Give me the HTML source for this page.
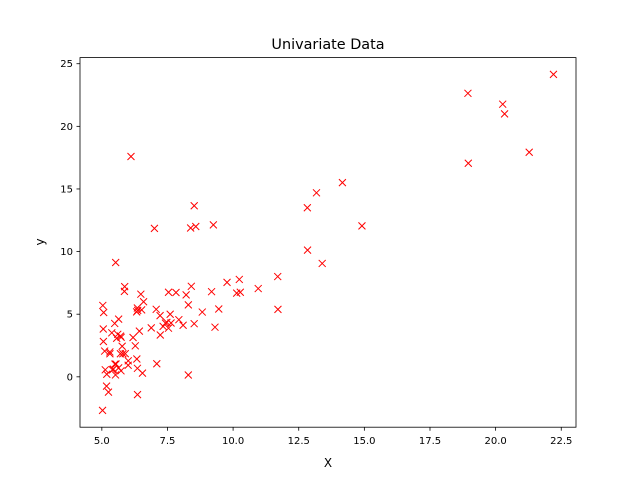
<!DOCTYPE html>
<html><head><meta charset="utf-8"><style>
html,body{margin:0;padding:0;background:#fff}
svg{display:block;font-family:"DejaVu Sans","Liberation Sans",sans-serif}
</style></head><body>
<svg id="chart" width="640" height="480" viewBox="0 0 640 480" xmlns="http://www.w3.org/2000/svg">
<rect width="640" height="480" fill="#fff"/>
<text x="328" y="49" font-size="14.4" text-anchor="middle">Univariate Data</text>
<text x="328" y="467" font-size="12" text-anchor="middle">X</text>
<text transform="translate(44,242) rotate(-90)" font-size="12" text-anchor="middle">y</text>
<g id="marks"></g>
<g id="ticks"></g>
<rect x="80" y="57.6" width="496" height="369.6" fill="none" stroke="#000" stroke-width="0.8"/>
</svg>
<script>
const xValues=[6.1101,5.5277,8.5186,7.0032,5.8598,8.3829,7.4764,8.5781,6.4862,5.0546,5.7107,14.164,5.734,8.4084,5.6407,5.3794,6.3654,5.1301,6.4296,7.0708,6.1891,20.27,5.4901,6.3261,5.5649,18.945,12.828,10.957,13.176,22.203,5.2524,6.5894,9.2482,5.8918,8.2111,7.9334,8.0959,5.6063,12.836,6.3534,5.4069,6.8825,11.708,5.7737,7.8247,7.0931,5.0702,5.8014,11.7,5.5416,7.5402,5.3077,7.4239,7.6031,6.3328,6.3589,6.2742,5.6397,9.3102,9.4536,8.8254,5.1793,21.279,14.908,18.959,7.2182,8.2951,10.236,5.4994,20.341,10.136,7.3345,6.0062,7.2259,5.0269,6.5479,7.5386,5.0365,10.274,5.1077,5.7292,5.1884,6.3557,9.7687,6.5159,8.5172,9.1802,6.002,5.5204,5.0594,5.7077,7.6366,5.8707,5.3054,8.2934,13.394,5.4369];
const yValues=[17.592,9.1302,13.662,11.854,6.8233,11.886,4.3483,12,6.5987,3.8166,3.2522,15.505,3.1551,7.2258,0.71618,3.5129,5.3048,0.56077,3.6518,5.3893,3.1386,21.767,4.263,5.1875,3.0825,22.638,13.501,7.0467,14.692,24.147,-1.22,5.9966,12.134,1.8495,6.5426,4.5623,4.1164,3.3928,10.117,5.4974,0.55657,3.9115,5.3854,2.4406,6.7318,1.0463,5.1337,1.844,8.0043,1.0179,6.7504,1.8396,4.2885,4.9981,1.4233,-1.4211,2.4756,4.6042,3.9624,5.4141,5.1694,-0.74279,17.929,12.054,17.054,4.8852,5.7442,7.7754,1.0173,20.992,6.6799,4.0259,1.2784,3.3411,-2.6807,0.29678,3.8845,5.7014,6.7526,2.0576,0.47953,0.20421,0.67861,7.5435,5.3436,4.2415,6.7981,0.92695,0.152,2.8214,1.8451,4.2959,7.2029,1.9869,0.14454,9.0551,0.61705];
const xTicks=[5.0,7.5,10.0,12.5,15.0,17.5,20.0,22.5];
const yTicks=[0,5,10,15,20,25];
const NS='http://www.w3.org/2000/svg';
const L=80,R=576,T=57.6,B=427.2;
const xmin=Math.min(...xValues),xmax=Math.max(...xValues),ymin=Math.min(...yValues),ymax=Math.max(...yValues);
const x0=xmin-(xmax-xmin)*0.05,x1=xmax+(xmax-xmin)*0.05,y0=ymin-(ymax-ymin)*0.05,y1=ymax+(ymax-ymin)*0.05;
const sx=v=>L+(v-x0)/(x1-x0)*(R-L);
const sy=v=>B-(v-y0)/(y1-y0)*(B-T);
const marks=document.getElementById('marks');
for(let i=0;i<xValues.length;i++){
  const cx=sx(xValues[i]),cy=sy(yValues[i]),s=3.5;
  const p=document.createElementNS(NS,'path');
  p.setAttribute('d',`M${cx-s},${cy-s}L${cx+s},${cy+s}M${cx-s},${cy+s}L${cx+s},${cy-s}`);
  p.setAttribute('stroke','#ff0000');p.setAttribute('stroke-width','1');p.setAttribute('fill','none');
  
  
  marks.appendChild(p);
}
const tg=document.getElementById('ticks');
xTicks.forEach(t=>{
  const x=sx(t);
  const l=document.createElementNS(NS,'line');
  l.setAttribute('x1',x);l.setAttribute('x2',x);l.setAttribute('y1',B);l.setAttribute('y2',B+3.5);l.setAttribute('stroke','#000');l.setAttribute('stroke-width','0.8');
  
  
  tg.appendChild(l);
  const tx=document.createElementNS(NS,'text');
  tx.setAttribute('x',x);tx.setAttribute('y',B+17);tx.setAttribute('font-size','10');tx.setAttribute('text-anchor','middle');
  tx.textContent=t.toFixed(1);
  
  
  tg.appendChild(tx);
});
yTicks.forEach(t=>{
  const y=sy(t);
  const l=document.createElementNS(NS,'line');
  l.setAttribute('x1',L-3.5);l.setAttribute('x2',L);l.setAttribute('y1',y);l.setAttribute('y2',y);l.setAttribute('stroke','#000');l.setAttribute('stroke-width','0.8');
  
  
  tg.appendChild(l);
  const tx=document.createElementNS(NS,'text');
  tx.setAttribute('x',L-7);tx.setAttribute('y',y+3.5);tx.setAttribute('font-size','10');tx.setAttribute('text-anchor','end');
  tx.textContent=String(t);
  
  
  tg.appendChild(tx);
});
</script>
</body></html>
